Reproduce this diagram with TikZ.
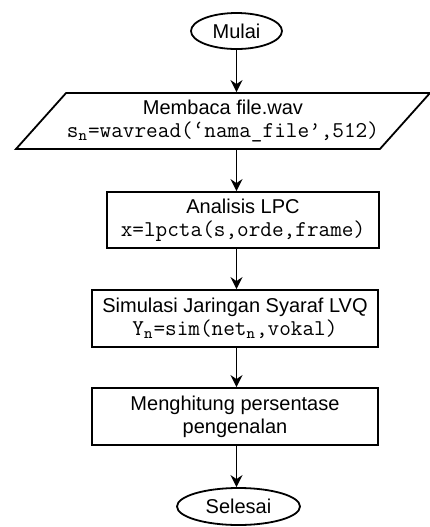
\documentclass[tikz,border=0pt]{standalone}
\usepackage{fontspec}
\setmainfont{Liberation Sans}
\newcommand{\codefont}{\ttfamily\fontsize{11.3}{11.5}\selectfont}
\usetikzlibrary{shapes.geometric, arrows.meta, positioning}

\begin{document}
\begin{tikzpicture}[
            x=0.5pt, y=-0.5pt,
            line width=0.9pt,
            terminal/.style={ellipse, draw=black, inner sep=0pt, font=\fontsize{10}{12}\selectfont},
            process/.style={rectangle, draw=black, align=center, inner sep=0pt, minimum width=143pt, minimum height=28.5pt, font=\fontsize{10}{11.5}\selectfont},
            io/.style={trapezium, draw=black, align=center, inner sep=0pt, trapezium left angle=40, trapezium right angle=140, trapezium stretches body, minimum width=207pt, minimum height=28pt, font=\fontsize{10}{11.5}\selectfont},
            arrow/.style={-{Stealth[length=6pt, width=6pt, inset=2pt]}}
        ]
            \useasboundingbox (0,0) rectangle (430,527);

            % MULAI
            \node[terminal, minimum width=45.5pt, minimum height=18pt] (mulai) at (236.5,31) {Mulai};

            % BACA FILE
            \node[io] (baca) at (223,121) {
                Membaca file.wav\\
                {\codefont s\textsubscript{n}=wavread(‘nama\_file’,512)}
            };

            % LPC
            \node[process, minimum width=136pt, minimum height=28pt] (lpc) at (243,220) {
                Analisis LPC\\
                {\codefont x=lpcta(s,orde,frame)}
            };

            % LVQ
            \node[process] (lvq) at (235,318.5) {
                Simulasi Jaringan Syaraf LVQ\\
                {\codefont Y\textsubscript{n}=sim(net\textsubscript{n},vokal)}
            };

            % HITUNG
            \node[process] (hitung) at (235,416.5) {
                Menghitung persentase\\
                pengenalan
            };

            % SELESAI
            \node[terminal, minimum width=61.5pt, minimum height=18.5pt] (selesai) at (238.5,506.5) {Selesai};

            % Alur
            \draw[arrow] (mulai.south) -- (mulai.south |- baca.north);
            \draw[arrow] (mulai |- baca.south) -- (mulai |- lpc.north);
            \draw[arrow] (mulai |- lpc.south) -- (mulai |- lvq.north);
            \draw[arrow] (mulai |- lvq.south) -- (mulai |- hitung.north);
            \draw[arrow] (mulai |- hitung.south) -- (mulai |- selesai.north);
        \end{tikzpicture}
\end{document}
